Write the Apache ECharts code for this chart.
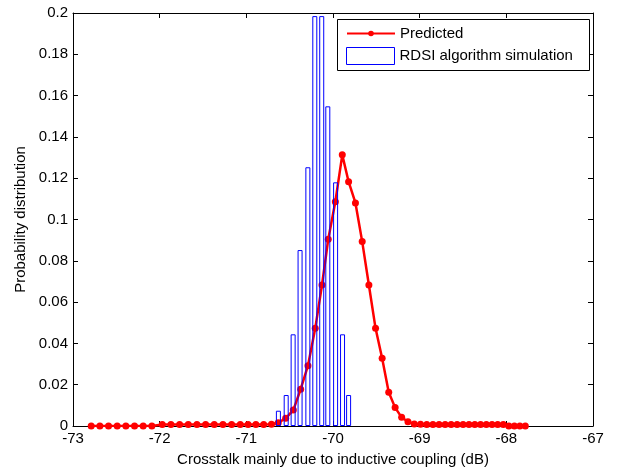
<!DOCTYPE html>
<html>
<head>
<meta charset="utf-8">
<script src="https://cdn.jsdelivr.net/npm/echarts@6/dist/echarts.min.js"></script>
<style>
html,body{margin:0;padding:0;background:#fff;}
#chart{width:636px;height:474px;}
</style>
</head>
<body>
<div id="chart"></div>
<script>
// Predicted curve (x in dB, y probability)
var predX = [
  -72.79, -72.69, -72.59, -72.49, -72.39, -72.29, -72.19, -72.09,
  -71.97, -71.87, -71.77, -71.67, -71.57, -71.47, -71.37, -71.27,
  -71.17, -71.07, -70.98, -70.89, -70.80, -70.71,
  -70.632, -70.546, -70.458, -70.373, -70.289, -70.205, -70.127, -70.055, -69.973, -69.893,
  -69.820, -69.741, -69.663, -69.586, -69.509, -69.433, -69.357, -69.283, -69.208, -69.135,
  -69.062, -68.990, -68.918, -68.847, -68.776, -68.706, -68.637, -68.568, -68.499, -68.431,
  -68.364, -68.297, -68.231, -68.165, -68.100, -68.035, -67.971, -67.907, -67.844, -67.781
];
var predY = [
  0, 0, 0, 0, 0, 0, 0, 0,
  0.0007, 0.0007, 0.0007, 0.0007, 0.0007, 0.0007, 0.0007, 0.0007,
  0.0007, 0.0007, 0.0007, 0.0007, 0.0007, 0.0009,
  0.0016, 0.0037, 0.0077, 0.0178, 0.0292, 0.0473, 0.0683, 0.0904, 0.1086, 0.1313,
  0.1183, 0.1080, 0.0893, 0.0683, 0.0473, 0.0328, 0.0163, 0.0089, 0.0042, 0.0021,
  0.0010, 0.0008, 0.0007, 0.0007, 0.0007, 0.0007, 0.0007, 0.0007, 0.0007, 0.0007,
  0.0007, 0.0007, 0.0007, 0.0007, 0.0007, 0.0007, 0, 0, 0, 0
];
// RDSI algorithm simulation histogram
var histX = [-70.63, -70.54, -70.46, -70.38, -70.29, -70.21, -70.13, -70.06, -69.97, -69.89, -69.82];
var histY = [0.0074, 0.0150, 0.0444, 0.0852, 0.1253, 0.1985, 0.1985, 0.1548, 0.1180, 0.0444, 0.0150];
// Axis ticks
var xTicks = [-73, -72, -71, -70, -69, -68, -67];
var yTicks = [0, 0.02, 0.04, 0.06, 0.08, 0.1, 0.12, 0.14, 0.16, 0.18, 0.2];

var FONT = 'Liberation Sans, Arial, sans-serif';
var FS = 15;

function zip(a, b) { var r = []; for (var i = 0; i < a.length; i++) r.push([a[i], b[i]]); return r; }

var chart = echarts.init(document.getElementById('chart'), null, {renderer: 'canvas'});
var axisCommon = {
  axisLine: {show: true, onZero: false, lineStyle: {color: '#000', width: 1}},
  axisTick: {show: true, inside: true, length: 5, lineStyle: {color: '#000'}},
  splitLine: {show: false}
};
var option = {
  animation: false,
  backgroundColor: '#fff',
  textStyle: {fontFamily: FONT},
  grid: {left: 73, right: 43, top: 13, bottom: 48, containLabel: false},
  xAxis: [
    Object.assign({
      type: 'value', position: 'bottom',
      min: xTicks[0], max: xTicks[xTicks.length - 1], interval: 1,
      name: 'Crosstalk mainly due to inductive coupling (dB)',
      nameLocation: 'middle', nameGap: 26,
      nameTextStyle: {fontFamily: FONT, fontSize: FS, color: '#000'},
      axisLabel: {fontFamily: FONT, fontSize: FS, color: '#000', margin: 5}
    }, axisCommon),
    Object.assign({
      type: 'value', position: 'top',
      min: xTicks[0], max: xTicks[xTicks.length - 1], interval: 1,
      axisLabel: {show: false}
    }, axisCommon)
  ],
  yAxis: [
    Object.assign({
      type: 'value', position: 'left',
      min: yTicks[0], max: yTicks[yTicks.length - 1], interval: 0.02,
      name: 'Probability distribution',
      nameLocation: 'middle', nameGap: 42,
      nameTextStyle: {fontFamily: FONT, fontSize: FS, color: '#000'},
      axisLabel: {fontFamily: FONT, fontSize: FS, color: '#000', margin: 5,
        formatter: function (v) { return String(parseFloat(v.toFixed(2))); }}
    }, axisCommon),
    Object.assign({
      type: 'value', position: 'right',
      min: yTicks[0], max: yTicks[yTicks.length - 1], interval: 0.02,
      axisLabel: {show: false}
    }, axisCommon)
  ],
  legend: [
    {
      data: ['Predicted'],
      left: 346, top: 26,
      padding: 0,
      itemWidth: 48, itemHeight: 7, itemGap: 0,
      textStyle: {fontFamily: FONT, fontSize: FS, color: '#000'},
      selectedMode: false, z: 10
    },
    {
      data: [{name: 'RDSI algorithm simulation', icon: 'rect'}],
      left: 346, top: 47,
      padding: 0,
      itemWidth: 48, itemHeight: 17, itemGap: 0,
      itemStyle: {color: '#fff', borderColor: '#0000ff', borderWidth: 1},
      textStyle: {fontFamily: FONT, fontSize: FS, color: '#000'},
      selectedMode: false, z: 10
    }
  ],
  graphic: [{
    type: 'rect', z: 5,
    shape: {x: 337.5, y: 19.5, width: 252, height: 51},
    style: {fill: '#fff', stroke: '#000', lineWidth: 1}
  }],
  series: [
    {
      name: 'Predicted', type: 'line',
      xAxisIndex: 0, yAxisIndex: 0,
      data: zip(predX, predY),
      symbol: 'circle', symbolSize: 7, showSymbol: true,
      lineStyle: {color: '#ff0000', width: 2.5},
      itemStyle: {color: '#ff0000'},
      z: 2
    },
    {
      name: 'RDSI algorithm simulation', type: 'bar',
      xAxisIndex: 0, yAxisIndex: 0,
      data: zip(histX, histY),
      barWidth: 5,
      itemStyle: {color: 'rgba(255,255,255,0)', borderColor: '#0000ff', borderWidth: 1},
      z: 3
    }
  ]
};
chart.setOption(option);
</script>
</body>
</html>
